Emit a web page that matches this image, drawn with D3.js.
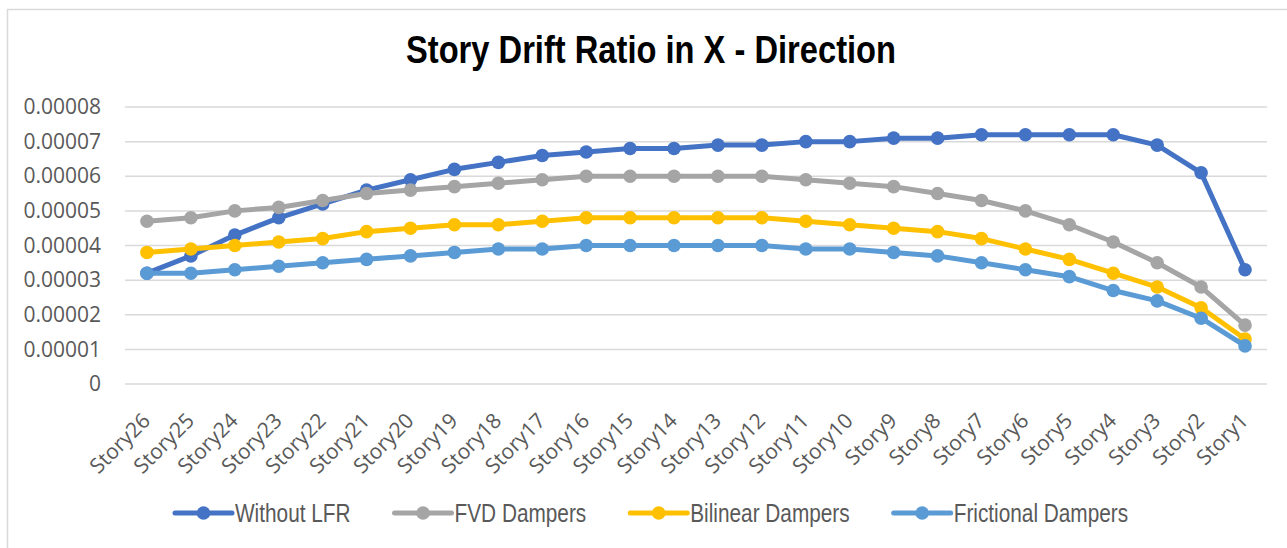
<!DOCTYPE html>
<html>
<head>
<meta charset="utf-8">
<script src="https://cdn.jsdelivr.net/npm/d3@7"></script>
<style>
  body { margin: 0; background: #fff; }
  svg { display: block; }
</style>
</head>
<body>
<script>
// story labels, top floor first as in the source chart
const stories = ["Story26","Story25","Story24","Story23","Story22","Story21","Story20","Story19","Story18",
  "Story17","Story16","Story15","Story14","Story13","Story12","Story11","Story10","Story9","Story8",
  "Story7","Story6","Story5","Story4","Story3","Story2","Story1"];

const withoutLFR = [0.000032,0.000037,0.000043,0.000048,0.000052,0.000056,0.000059,0.000062,0.000064,
  0.000066,0.000067,0.000068,0.000068,0.000069,0.000069,0.00007,0.00007,0.000071,0.000071,
  0.000072,0.000072,0.000072,0.000072,0.000069,0.000061,0.000033];
const fvdDampers = [0.000047,0.000048,0.00005,0.000051,0.000053,0.000055,0.000056,0.000057,0.000058,
  0.000059,0.00006,0.00006,0.00006,0.00006,0.00006,0.000059,0.000058,0.000057,0.000055,
  0.000053,0.00005,0.000046,0.000041,0.000035,0.000028,0.000017];
const bilinearDampers = [0.000038,0.000039,0.00004,0.000041,0.000042,0.000044,0.000045,0.000046,0.000046,
  0.000047,0.000048,0.000048,0.000048,0.000048,0.000048,0.000047,0.000046,0.000045,0.000044,
  0.000042,0.000039,0.000036,0.000032,0.000028,0.000022,0.000013];
const frictionalDampers = [0.000032,0.000032,0.000033,0.000034,0.000035,0.000036,0.000037,0.000038,0.000039,
  0.000039,0.00004,0.00004,0.00004,0.00004,0.00004,0.000039,0.000039,0.000038,0.000037,
  0.000035,0.000033,0.000031,0.000027,0.000024,0.000019,0.000011];

const seriesNames = ["Without LFR","FVD Dampers","Bilinear Dampers","Frictional Dampers"];
const yTicks = [0,0.00001,0.00002,0.00003,0.00004,0.00005,0.00006,0.00007,0.00008];

const colors = ["#4472C4","#A5A5A5","#FFC000","#5B9BD5"];
const allSeries = [withoutLFR, fvdDampers, bilinearDampers, frictionalDampers];

const w = 1287, h = 548;
const plotLeft = 125, plotRight = 1267, plotTop = 107, plotBottom = 384;
const narrow = 0.8; // no narrow font installed, so squeeze Liberation Sans

const svg = d3.select("body").append("svg")
  .attr("width", w)
  .attr("height", h);

// chart frame (only top and left edges fall inside the picture)
svg.append("rect")
  .attr("x", 7.5).attr("y", 9.5)
  .attr("width", 1300).attr("height", 560)
  .style("fill", "none")
  .style("stroke", "#D9D9D9")
  .style("stroke-width", 1.5);

const xScale = d3.scalePoint()
  .domain(stories)
  .range([plotLeft, plotRight])
  .padding(0.5);

const yScale = d3.scaleLinear()
  .domain([0, 0.00008])
  .range([plotBottom, plotTop]);

// gridlines
svg.append("g")
  .selectAll("line")
  .data(yTicks)
  .enter()
  .append("line")
  .attr("x1", plotLeft).attr("x2", plotRight)
  .attr("y1", d => yScale(d)).attr("y2", d => yScale(d))
  .style("stroke", "#D9D9D9")
  .style("stroke-width", 1.5);

const yAxis = d3.axisLeft(yScale)
  .tickValues(yTicks)
  .tickSize(0)
  .tickPadding(24)
  .tickFormat(d => d === 0 ? "0" : d3.format(".5f")(d));
const yg = svg.append("g")
  .attr("transform", "translate(" + plotLeft + ",0)")
  .call(yAxis);
yg.select(".domain").remove();
yg.selectAll("text")
  .style("font-family", "'Open Sans', sans-serif")
  .style("font-size", "21px")
  .style("fill", "#595959");

const xAxis = d3.axisBottom(xScale).tickSize(0).tickPadding(0);
const xg = svg.append("g")
  .attr("transform", "translate(0," + plotBottom + ")")
  .call(xAxis);
xg.select(".domain").remove();
xg.selectAll("text")
  .style("font-family", "'Open Sans', sans-serif")
  .style("font-size", "21px")
  .style("fill", "#595959")
  .attr("text-anchor", "end")
  .attr("dy", 0)
  .attr("transform", "translate(4,38) rotate(-45)");

// title
svg.append("text")
  .attr("transform", "translate(651,63) scale(0.86,1)")
  .attr("text-anchor", "middle")
  .style("font-family", "'Liberation Sans', Arial, sans-serif")
  .style("font-weight", "bold")
  .style("font-size", "38px")
  .style("fill", "#000")
  .text("Story Drift Ratio in X - Direction");

const line = d3.line()
  .x((d, i) => xScale(stories[i]))
  .y(d => yScale(d));

allSeries.forEach(function(values, k) {
  const g = svg.append("g");
  g.append("path")
    .datum(values)
    .attr("d", line)
    .style("fill", "none")
    .style("stroke", colors[k])
    .style("stroke-width", 5)
    .style("stroke-linejoin", "round");
  g.selectAll("circle")
    .data(values)
    .enter()
    .append("circle")
    .attr("cx", (d, i) => xScale(stories[i]))
    .attr("cy", d => yScale(d))
    .attr("r", 6.8)
    .style("fill", colors[k]);
});

// legend
let lx = 175;
const ly = 513;
seriesNames.forEach(function(name, k) {
  const g = svg.append("g");
  g.append("line")
    .attr("x1", lx).attr("x2", lx + 57)
    .attr("y1", ly).attr("y2", ly)
    .style("stroke", colors[k])
    .style("stroke-width", 5)
    .style("stroke-linecap", "round");
  g.append("circle")
    .attr("cx", lx + 28.5).attr("cy", ly)
    .attr("r", 6.8)
    .style("fill", colors[k]);
  const t = g.append("text")
    .attr("transform", "translate(" + (lx + 60) + "," + (ly + 9) + ") scale(" + narrow + ",1)")
    .style("font-family", "'Liberation Sans', Arial, sans-serif")
    .style("font-size", "26px")
    .style("fill", "#595959")
    .text(name);
  lx += 60 + t.node().getComputedTextLength() * narrow + 44;
});
</script>
</body>
</html>
